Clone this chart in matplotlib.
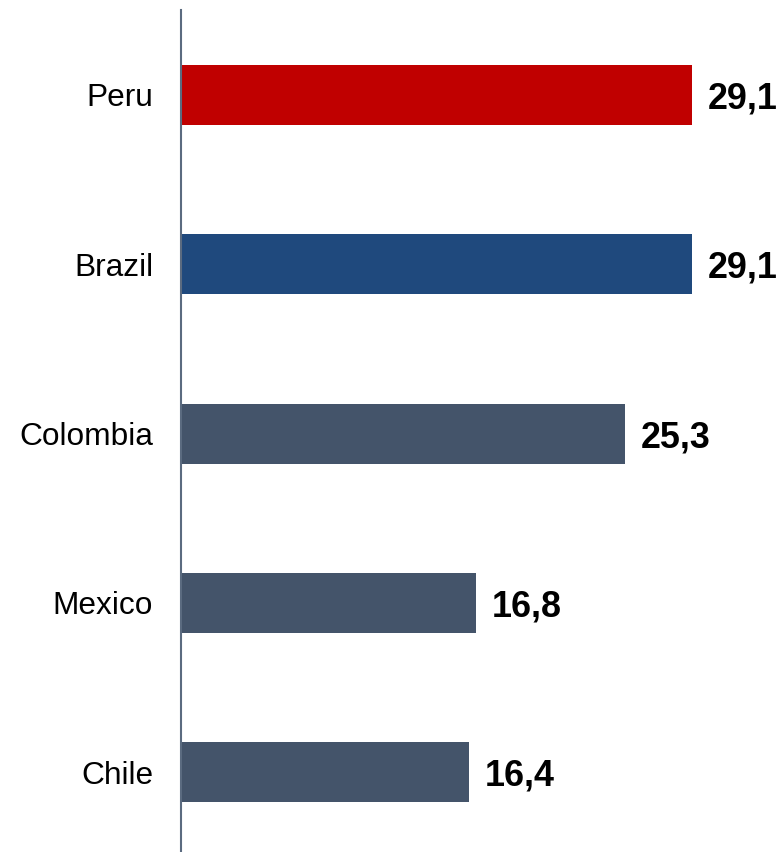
import matplotlib.pyplot as plt

plt.rcParams['font.family'] = ['Liberation Sans', 'DejaVu Sans']

countries = ['Peru', 'Brazil', 'Colombia', 'Mexico', 'Chile']
values = [29.1, 29.1, 25.3, 16.8, 16.4]
labels = ['29,1', '29,1', '25,3', '16,8', '16,4']
colors = ['#C00000', '#1F497D', '#44546A', '#44546A', '#44546A']

fig = plt.figure(figsize=(7.81, 8.52), dpi=100)
ax = fig.add_axes([181 / 781, 0, 600 / 781, 842 / 852])

pos = list(range(len(countries)))
ax.barh(pos, values, height=0.354, color=colors)

# value labels just right of each bar
for y, v, t in zip(pos, values, labels):
    ax.annotate(t, (v, y), xytext=(11.5, 0), textcoords='offset points',
                ha='left', va='center_baseline', fontsize=25.8, fontweight='bold')

ax.set_yticks(pos)
ax.set_yticklabels(countries, fontsize=22.8)
ax.tick_params(axis='y', length=0, pad=20)
ax.set_xticks([])
ax.set_xlim(0, 600 / 17.56)
ax.set_ylim(4.47, -0.5)

for s in ['top', 'right', 'bottom']:
    ax.spines[s].set_visible(False)
ax.spines['left'].set_color('#5B6B80')
ax.spines['left'].set_linewidth(1.5)

fig.savefig('out.png', dpi=100)
